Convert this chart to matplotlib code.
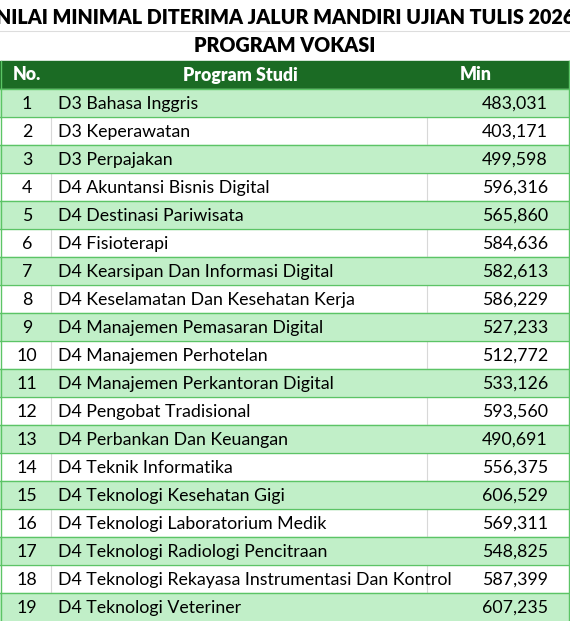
import matplotlib.pyplot as plt
from matplotlib.patches import Rectangle

title1 = "NILAI MINIMAL DITERIMA JALUR MANDIRI UJIAN TULIS 2026"
title2 = "PROGRAM VOKASI"
headers = ["No.", "Program Studi", "Min"]
programs = [
    "D3 Bahasa Inggris", "D3 Keperawatan", "D3 Perpajakan",
    "D4 Akuntansi Bisnis Digital", "D4 Destinasi Pariwisata", "D4 Fisioterapi",
    "D4 Kearsipan Dan Informasi Digital", "D4 Keselamatan Dan Kesehatan Kerja",
    "D4 Manajemen Pemasaran Digital", "D4 Manajemen Perhotelan",
    "D4 Manajemen Perkantoran Digital", "D4 Pengobat Tradisional",
    "D4 Perbankan Dan Keuangan", "D4 Teknik Informatika",
    "D4 Teknologi Kesehatan Gigi", "D4 Teknologi Laboratorium Medik",
    "D4 Teknologi Radiologi Pencitraan",
    "D4 Teknologi Rekayasa Instrumentasi Dan Kontrol",
    "D4 Teknologi Veteriner",
]
scores = ["483,031", "403,171", "499,598", "596,316", "565,860", "584,636",
          "582,613", "586,229", "527,233", "512,772", "533,126", "593,560",
          "490,691", "556,375", "606,529", "569,311", "548,825", "587,399",
          "607,235"]

W, H = 570, 621
plt.rcParams['font.family'] = ['Lato', 'DejaVu Sans']
fig = plt.figure(figsize=(W / 100, H / 100), dpi=100)
ax = fig.add_axes([0, 0, 1, 1])
ax.set_xlim(0, W)
ax.set_ylim(H, 0)
ax.axis("off")

dark = "#1b6b24"
light = "#c1efc8"
border = "#5cc466"
fs = 12.8

ax.text(W / 2, 17, title1, ha="center", va="center", fontsize=14.2, fontweight="heavy")
ax.text(W / 2, 46, title2, ha="center", va="center", fontsize=14.2, fontweight="heavy")
ax.axhline(31, color="#dddddd", lw=0.8)

top, rh = 61, 28
ax.add_patch(Rectangle((0, top), W, rh, color=dark))
ax.text(27, top + rh / 2, headers[0], ha="center", va="center", color="white", fontsize=fs, fontweight="heavy")
ax.text(240, top + rh / 2, headers[1], ha="center", va="center", color="white", fontsize=fs, fontweight="heavy")
ax.text(476, top + rh / 2, headers[2], ha="center", va="center", color="white", fontsize=fs, fontweight="heavy")

for i, (p, s) in enumerate(zip(programs, scores)):
    y = top + rh * (i + 1)
    fc = light if i % 2 == 0 else "white"
    ax.add_patch(Rectangle((0, y), W, rh, color=fc))
    if i % 2 == 1:
        ax.plot([51, 51], [y, y + rh], color="#d8d8d8", lw=0.8)
        ax.plot([427, 427], [y, y + rh], color="#d8d8d8", lw=0.8)
    ax.axhline(y, color=border, lw=1)
    cy = y + rh / 2 + 1
    ax.text(27, cy, str(i + 1), ha="center", va="center", fontsize=fs)
    ax.text(58, cy, p, ha="left", va="center", fontsize=fs)
    ax.text(548, cy, s, ha="right", va="center", fontsize=fs)

ax.plot([0.5, 0.5], [top, H], color=border, lw=1)
ax.plot([W - 1, W - 1], [top, H], color=border, lw=1)

fig.savefig("out.png", dpi=100)
